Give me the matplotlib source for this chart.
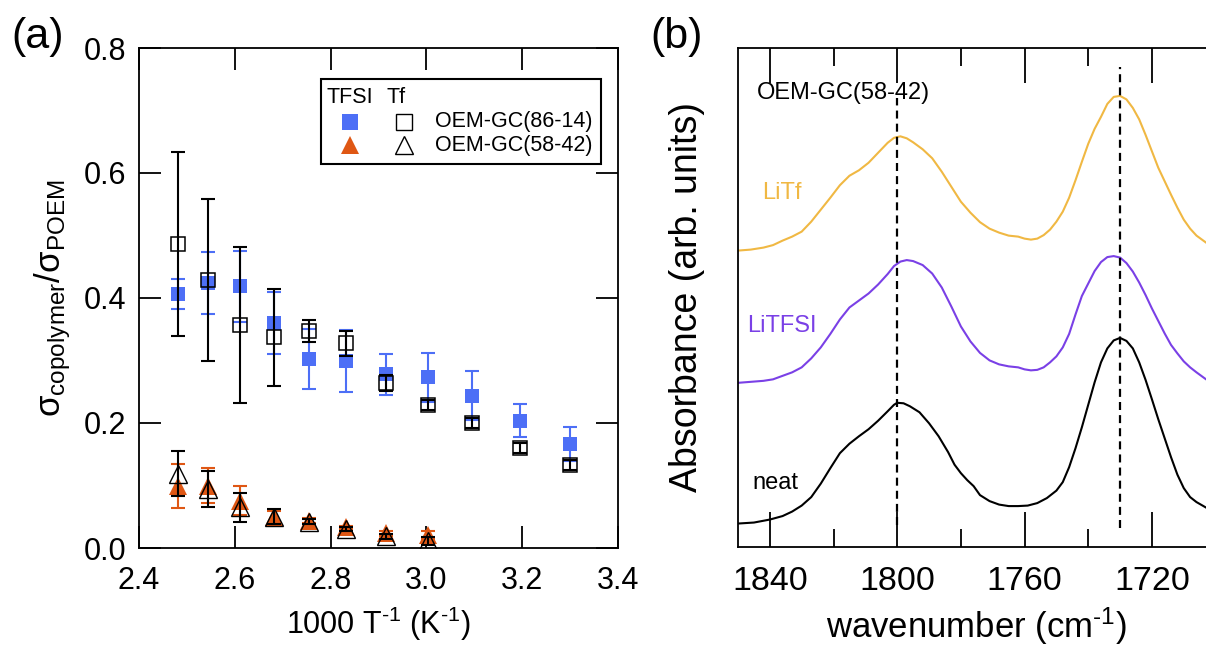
import matplotlib
matplotlib.use("Agg")
import matplotlib.pyplot as plt
from matplotlib.patches import Rectangle
from matplotlib.ticker import MultipleLocator, FormatStrFormatter

plt.rcParams['font.family'] = ['Liberation Sans', 'DejaVu Sans']
plt.rcParams['mathtext.fontset'] = 'custom'
plt.rcParams['mathtext.rm'] = 'Liberation Sans'
plt.rcParams['mathtext.it'] = 'Liberation Sans:italic'
plt.rcParams['mathtext.bf'] = 'Liberation Sans:bold'

# ---------------- (a) normalised conductivity ----------------
inv_T = [2.481, 2.545, 2.611, 2.681, 2.755, 2.833, 2.915, 3.003, 3.096, 3.195, 3.300]

tfsi_86 = [0.406, 0.424, 0.419, 0.360, 0.302, 0.299, 0.278, 0.273, 0.244, 0.204, 0.166]
tfsi_86_err = [0.024, 0.050, 0.057, 0.050, 0.048, 0.050, 0.033, 0.039, 0.039, 0.026, 0.027]

tf_86 = [0.487, 0.429, 0.357, 0.337, 0.347, 0.328, 0.264, 0.229, 0.200, 0.160, 0.133]
tf_86_err = [0.147, 0.130, 0.125, 0.078, 0.018, 0.020, 0.013, 0.008, 0.008, 0.008, 0.008]

inv_T_58 = inv_T[:8]
tfsi_58 = [0.099, 0.100, 0.076, 0.050, 0.044, 0.033, 0.024, 0.021]
tfsi_58_err = [0.035, 0.028, 0.023, 0.010, 0.004, 0.003, 0.004, 0.006]

tf_58 = [0.119, 0.094, 0.065, 0.050, 0.042, 0.030, 0.019, 0.011]
tf_58_err = [0.036, 0.029, 0.023, 0.012, 0.004, 0.003, 0.004, 0.006]

# ---------------- (b) carbonyl region FTIR ----------------
wn_neat = [1850, 1845, 1840, 1836, 1833, 1830, 1827, 1824, 1821, 1818, 1815, 1812,
           1809, 1806, 1803, 1801, 1800, 1798, 1796, 1793, 1790, 1787, 1784, 1782,
           1780, 1778, 1776, 1774, 1771, 1768, 1765, 1762, 1759, 1756, 1753, 1750,
           1748, 1746, 1744, 1742, 1740, 1738, 1736, 1734, 1732, 1730, 1728, 1726,
           1724, 1722, 1720, 1718, 1716, 1714, 1712, 1710, 1708, 1706, 1703, 1700]
abs_neat = [0.047, 0.049, 0.055, 0.062, 0.071, 0.083, 0.100, 0.127, 0.158, 0.188, 0.207, 0.222,
            0.236, 0.253, 0.272, 0.285, 0.289, 0.288, 0.282, 0.270, 0.248, 0.222, 0.190, 0.165,
            0.148, 0.134, 0.122, 0.104, 0.092, 0.085, 0.082, 0.082, 0.083, 0.088, 0.098, 0.113,
            0.130, 0.160, 0.198, 0.240, 0.285, 0.330, 0.370, 0.398, 0.414, 0.419, 0.413, 0.398,
            0.370, 0.335, 0.296, 0.256, 0.218, 0.180, 0.145, 0.118, 0.100, 0.090, 0.079, 0.070]

wn_salt = [1850, 1846, 1842, 1839, 1836, 1833, 1830, 1827, 1824, 1821, 1818, 1815,
           1812, 1809, 1806, 1803, 1801, 1799, 1797, 1795, 1792, 1789, 1786, 1783,
           1780, 1777, 1774, 1771, 1768, 1765, 1762, 1760, 1758, 1756, 1754, 1752,
           1750, 1748, 1746, 1744, 1742, 1740, 1738, 1736, 1734, 1732, 1730, 1728,
           1726, 1724, 1722, 1720, 1718, 1716, 1714, 1712, 1710, 1708, 1706, 1703, 1700]
abs_litf = [0.594, 0.596, 0.600, 0.605, 0.614, 0.622, 0.632, 0.652, 0.676, 0.700, 0.725, 0.744,
            0.755, 0.770, 0.790, 0.810, 0.820, 0.823, 0.819, 0.811, 0.797, 0.779, 0.752, 0.722,
            0.692, 0.670, 0.651, 0.638, 0.630, 0.624, 0.622, 0.618, 0.616, 0.618, 0.625, 0.636,
            0.652, 0.672, 0.700, 0.735, 0.772, 0.808, 0.838, 0.862, 0.888, 0.902, 0.904, 0.897,
            0.880, 0.857, 0.826, 0.793, 0.760, 0.733, 0.706, 0.680, 0.656, 0.638, 0.624, 0.610, 0.600]
abs_litfsi = [0.329, 0.331, 0.333, 0.336, 0.343, 0.350, 0.360, 0.378, 0.400, 0.427, 0.456, 0.480,
              0.494, 0.508, 0.526, 0.547, 0.563, 0.572, 0.575, 0.573, 0.565, 0.548, 0.520, 0.482,
              0.442, 0.412, 0.389, 0.374, 0.366, 0.362, 0.360, 0.356, 0.354, 0.355, 0.360, 0.370,
              0.382, 0.400, 0.427, 0.466, 0.503, 0.528, 0.553, 0.571, 0.581, 0.583, 0.580, 0.569,
              0.552, 0.530, 0.505, 0.478, 0.453, 0.428, 0.405, 0.388, 0.372, 0.360, 0.350, 0.336, 0.328]

peak_positions = [1800, 1730]

BLUE = '#4d6ff6'
ORANGE = '#df5714'
GOLD = '#f0b843'
PURPLE = '#7a40e6'

W, H = 1206, 658
fig = plt.figure(figsize=(W / 100, H / 100), dpi=100)

# ---------- panel (a) ----------
ax = fig.add_axes([139 / W, (H - 548) / H, 479 / W, 500 / H])
eb = dict(fmt='none', capsize=5.2, elinewidth=1.5, capthick=1.5)

# filled symbols: LiTFSI
ax.errorbar(inv_T, tfsi_86, yerr=tfsi_86_err, ecolor=BLUE, zorder=2, **eb)
ax.plot(inv_T, tfsi_86, 's', ms=10.3, color=BLUE, mew=0, zorder=2.1)
ax.errorbar(inv_T_58, tfsi_58, yerr=tfsi_58_err, ecolor=ORANGE, zorder=2, **eb)
ax.plot(inv_T_58, tfsi_58, '^', ms=13, color=ORANGE, mew=0, zorder=2.1)

# open symbols: LiTf
ax.errorbar(inv_T, tf_86, yerr=tf_86_err, ecolor='black', zorder=3, **eb)
ax.plot(inv_T, tf_86, 's', ms=10.3, mfc='none', mec='black', mew=1.1, zorder=3.1)
ax.errorbar(inv_T_58, tf_58, yerr=tf_58_err, ecolor='black', zorder=3, **eb)
ax.plot(inv_T_58, tf_58, '^', ms=13, mfc='none', mec='black', mew=1.0, zorder=3.1)

ax.set_xlim(2.4, 3.4)
ax.set_ylim(0.0, 0.8)
ax.xaxis.set_major_locator(MultipleLocator(0.2))
ax.yaxis.set_major_locator(MultipleLocator(0.2))
ax.xaxis.set_major_formatter(FormatStrFormatter('%.1f'))
ax.yaxis.set_major_formatter(FormatStrFormatter('%.1f'))
ax.tick_params(direction='in', length=16, width=1.3, top=True, right=True,
               labelsize=22)
ax.tick_params(axis='x', pad=13)
ax.tick_params(axis='y', pad=9)
for s in ax.spines.values():
    s.set_linewidth(1.3)
ax.set_xlabel(r'1000 T$^{\text{-1}}$ (K$^{\text{-1}}$)', fontsize=22, labelpad=6)
ax.set_ylabel(r'$\mathregular{σ_{copolymer}/σ_{POEM}}$', fontsize=25, labelpad=8)

# legend block
ax.add_patch(Rectangle((0.379, 0.769), 0.5855, 0.168, transform=ax.transAxes,
                       fill=False, ec='black', lw=1.5, zorder=5))
ax.text(0.392, 0.89, 'TFSI', transform=ax.transAxes, fontsize=15.5, va='baseline')
ax.text(0.516, 0.89, 'Tf', transform=ax.transAxes, fontsize=15.5, va='baseline')
ax.plot([0.4405], [0.852], 's', ms=11.5, color=BLUE, mew=0, transform=ax.transAxes, clip_on=False)
ax.plot([0.553], [0.852], 's', ms=11.5, mfc='none', mec='black', mew=1.0,
        transform=ax.transAxes, clip_on=False)
ax.plot([0.4405], [0.806], '^', ms=13.5, color=ORANGE, mew=0, transform=ax.transAxes, clip_on=False)
ax.plot([0.553], [0.806], '^', ms=13.5, mfc='none', mec='black', mew=1.0,
        transform=ax.transAxes, clip_on=False)
ax.text(0.618, 0.852, 'OEM-GC(86-14)', transform=ax.transAxes, fontsize=15.5, va='center')
ax.text(0.618, 0.806, 'OEM-GC(58-42)', transform=ax.transAxes, fontsize=15.5, va='center')

# ---------- panel (b) ----------
bx = fig.add_axes([738 / W, (H - 547) / H, (1215.6 - 738) / W, 499 / H])
bx.plot(wn_neat, abs_neat, color='black', lw=1.5)
bx.plot(wn_salt, abs_litfsi, color=PURPLE, lw=1.5)
bx.plot(wn_salt, abs_litf, color=GOLD, lw=1.5)
bx.plot([peak_positions[0]] * 2, [0.045, 0.9], color='black', lw=1.6,
        dashes=(3.6, 2.3))
bx.plot([peak_positions[1]] * 2, [0.038, 0.962], color='black', lw=1.6,
        dashes=(3.6, 2.3))
bx.set_xlim(1850, 1700)
bx.set_ylim(0, 1)
bx.xaxis.set_major_locator(MultipleLocator(40))
bx.xaxis.set_minor_locator(MultipleLocator(20))
bx.set_yticks([])
bx.tick_params(axis='x', which='major', direction='in', length=25, width=1.3,
               top=True, labelsize=24.5, pad=14)
bx.tick_params(axis='x', which='minor', direction='in', length=13, width=1.3, top=True)
for s in bx.spines.values():
    s.set_linewidth(1.3)
bx.set_xlabel(r'wavenumber (cm$^{\text{-1}}$)', fontsize=25, labelpad=6)
bx.set_ylabel('Absorbance (arb. units)', fontsize=27, labelpad=24)

bx.text(0.04, 0.91, 'OEM-GC(58-42)', transform=bx.transAxes, fontsize=17, va='center')
bx.text(0.05, 0.71, 'LiTf', transform=bx.transAxes, fontsize=17, va='center', color=GOLD)
bx.text(0.019, 0.443, 'LiTFSI', transform=bx.transAxes, fontsize=17, va='center', color=PURPLE)
bx.text(0.03, 0.128, 'neat', transform=bx.transAxes, fontsize=17, va='center')

fig.text(38 / W, 1 - 37 / H, '(a)', fontsize=31, ha='center', va='center')
fig.text(677 / W, 1 - 37 / H, '(b)', fontsize=31, ha='center', va='center')

fig.savefig('out.png', dpi=100)
